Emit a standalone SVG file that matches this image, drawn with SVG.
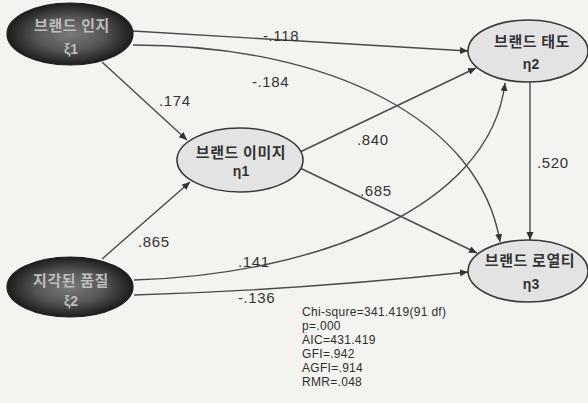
<svg xmlns="http://www.w3.org/2000/svg" width="588" height="403" viewBox="0 0 588 403">
  <style>
    .edge { fill: none; stroke: #4a4a4a; stroke-width: 1.4; }
    .arr { marker-end: url(#head); }
    .coef { font-family: "Liberation Sans", Arial, sans-serif; font-size: 15px; fill: #333; letter-spacing: 0.6px; }
    .stat { font-family: "Liberation Sans", Arial, sans-serif; font-size: 12px; fill: #2e2e2e; letter-spacing: 0.3px; }
    .exo { fill: url(#dark); stroke: #1e1e1e; stroke-width: 1.2; }
    .endo { fill: #e3e3e3; stroke: #3a3a3a; stroke-width: 1.6; }
    .kr { font-family: "Noto Sans CJK KR", "Noto Sans", sans-serif; font-size: 15px; font-weight: 700; text-anchor: middle; letter-spacing: 0.6px; }
    .sym { font-family: "Liberation Sans", "DejaVu Sans", sans-serif; font-size: 14px; font-weight: 700; text-anchor: middle; }
    .light { fill: #bdbdbd; }
    .darktxt { fill: #333; }
  </style>
  <defs>
    <radialGradient id="dark" cx="50%" cy="50%" r="50%">
      <stop offset="0" stop-color="#7a7a7a"/>
      <stop offset="0.55" stop-color="#555"/>
      <stop offset="1" stop-color="#1c1c1c"/>
    </radialGradient>
    <marker id="head" markerUnits="userSpaceOnUse" markerWidth="9" markerHeight="8" refX="8" refY="3.5" orient="auto">
      <path d="M0,0 L8,3.5 L0,7 z" fill="#333"/>
    </marker>
  </defs>

  <rect width="588" height="403" fill="#f3f3f0"/>

  <!-- paths between constructs -->
  <g id="connectors">
    <path class="edge arr" d="M133,31 L468,51"/>
    <path class="edge arr" d="M133,45 C330,45 480,120 500,242"/>
    <path class="edge arr" d="M102,62 L187,140"/>
    <path class="edge arr" d="M102,259 L190,182"/>
    <path class="edge arr" d="M134,280 C310,275 490,210 505,83"/>
    <path class="edge arr" d="M134,295 Q300,290 468,272"/>
    <path class="edge arr" d="M300,152 L476,68"/>
    <path class="edge arr" d="M300,168 L477,253"/>
    <path class="edge arr" d="M530,82 L530,240"/>
  </g>

  <!-- path coefficients -->
  <g id="coefficients">
    <text class="coef" x="263" y="41">-.118</text>
    <text class="coef" x="252" y="87">-.184</text>
    <text class="coef" x="159" y="106">.174</text>
    <text class="coef" x="138" y="247">.865</text>
    <text class="coef" x="238" y="267">.141</text>
    <text class="coef" x="238" y="303">-.136</text>
    <text class="coef" x="357" y="145">.840</text>
    <text class="coef" x="360" y="196">.685</text>
    <text class="coef" x="537" y="168">.520</text>
  </g>

  <g id="xi1">
    <ellipse class="exo" cx="70" cy="34" rx="63" ry="31"/>
    <text class="kr light" x="72" y="31">브랜드 인지</text>
    <text class="sym light" x="71" y="54">ξ1</text>
  </g>

  <g id="xi2">
    <ellipse class="exo" cx="70" cy="287" rx="63" ry="30"/>
    <text class="kr light" x="71" y="286">지각된 품질</text>
    <text class="sym light" x="71" y="306">ξ2</text>
  </g>

  <g id="eta1">
    <ellipse class="endo" cx="240" cy="160" rx="63" ry="32"/>
    <text class="kr darktxt" x="241" y="158">브랜드 이미지</text>
    <text class="sym darktxt" x="241" y="176">η1</text>
  </g>

  <g id="eta2">
    <ellipse class="endo" cx="528" cy="51" rx="60" ry="31"/>
    <text class="kr darktxt" x="532" y="47">브랜드 태도</text>
    <text class="sym darktxt" x="531" y="69">η2</text>
  </g>

  <g id="eta3">
    <ellipse class="endo" cx="528" cy="271" rx="60" ry="31"/>
    <text class="kr darktxt" x="530" y="266">브랜드 로열티</text>
    <text class="sym darktxt" x="531" y="289">η3</text>
  </g>

  <!-- model fit indices -->
  <g id="fit">
    <text class="stat" x="302" y="316">Chi-squre=341.419(91 df)</text>
    <text class="stat" x="302" y="330">p=.000</text>
    <text class="stat" x="302" y="344">AIC=431.419</text>
    <text class="stat" x="302" y="358">GFI=.942</text>
    <text class="stat" x="302" y="372">AGFI=.914</text>
    <text class="stat" x="302" y="386">RMR=.048</text>
  </g>
</svg>
